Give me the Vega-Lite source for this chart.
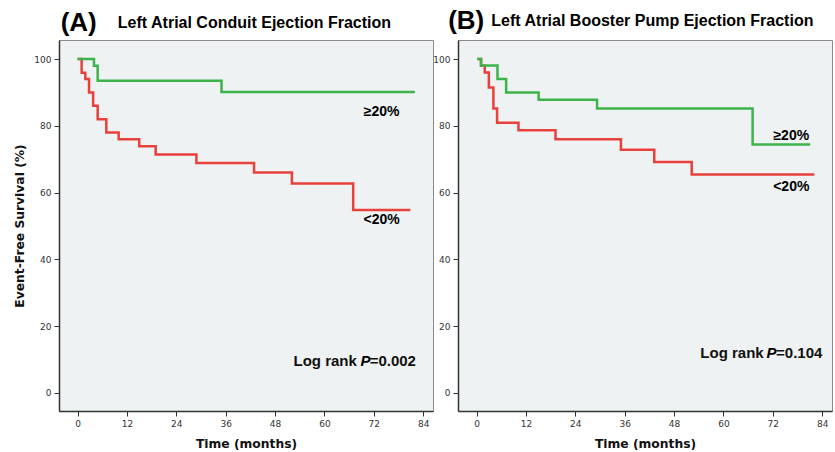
{
  "$schema": "https://vega.github.io/schema/vega-lite/v6.json",
  "padding": {"left": 12, "top": 7, "right": 0, "bottom": 0},
  "background": "white",
  "bounds": "flush",
  "spacing": 25,
  "datasets": {
    "km": [
      {"panel": "A", "group": "≥20%", "t": 0, "s": 100},
      {"panel": "A", "group": "≥20%", "t": 4.0, "s": 98},
      {"panel": "A", "group": "≥20%", "t": 4.9, "s": 93.5},
      {"panel": "A", "group": "≥20%", "t": 35.0, "s": 90.1},
      {"panel": "A", "group": "≥20%", "t": 82.0, "s": 90.1},
      {"panel": "A", "group": "<20%", "t": 0, "s": 100},
      {"panel": "A", "group": "<20%", "t": 1.0, "s": 95.9},
      {"panel": "A", "group": "<20%", "t": 1.9, "s": 94},
      {"panel": "A", "group": "<20%", "t": 2.8, "s": 90},
      {"panel": "A", "group": "<20%", "t": 3.8, "s": 86},
      {"panel": "A", "group": "<20%", "t": 4.9, "s": 82},
      {"panel": "A", "group": "<20%", "t": 7.0, "s": 78},
      {"panel": "A", "group": "<20%", "t": 10.0, "s": 76},
      {"panel": "A", "group": "<20%", "t": 15.0, "s": 73.9},
      {"panel": "A", "group": "<20%", "t": 19.0, "s": 71.4},
      {"panel": "A", "group": "<20%", "t": 28.9, "s": 68.9},
      {"panel": "A", "group": "<20%", "t": 42.9, "s": 66},
      {"panel": "A", "group": "<20%", "t": 52.1, "s": 62.7},
      {"panel": "A", "group": "<20%", "t": 67.0, "s": 54.8},
      {"panel": "A", "group": "<20%", "t": 80.9, "s": 54.8},
      {"panel": "B", "group": "≥20%", "t": 0.2, "s": 100},
      {"panel": "B", "group": "≥20%", "t": 1.1, "s": 98.1},
      {"panel": "B", "group": "≥20%", "t": 5.1, "s": 94},
      {"panel": "B", "group": "≥20%", "t": 7.2, "s": 90},
      {"panel": "B", "group": "≥20%", "t": 15.1, "s": 87.8},
      {"panel": "B", "group": "≥20%", "t": 29.3, "s": 85.2},
      {"panel": "B", "group": "≥20%", "t": 67.1, "s": 74.4},
      {"panel": "B", "group": "≥20%", "t": 81.1, "s": 74.4},
      {"panel": "B", "group": "<20%", "t": 0.2, "s": 100},
      {"panel": "B", "group": "<20%", "t": 1.1, "s": 98},
      {"panel": "B", "group": "<20%", "t": 2.0, "s": 96},
      {"panel": "B", "group": "<20%", "t": 3.0, "s": 91.5},
      {"panel": "B", "group": "<20%", "t": 4.1, "s": 85.2},
      {"panel": "B", "group": "<20%", "t": 5.0, "s": 80.9},
      {"panel": "B", "group": "<20%", "t": 10.2, "s": 78.7},
      {"panel": "B", "group": "<20%", "t": 19.2, "s": 76},
      {"panel": "B", "group": "<20%", "t": 35.1, "s": 72.8},
      {"panel": "B", "group": "<20%", "t": 43.2, "s": 69.2},
      {"panel": "B", "group": "<20%", "t": 52.3, "s": 65.4},
      {"panel": "B", "group": "<20%", "t": 82.1, "s": 65.4}
    ],
    "ann": [
      {"panel": "A", "kind": "head", "label": "(A)", "t": -4.1, "s": 110.8},
      {"panel": "A", "kind": "title", "label": "Left Atrial Conduit Ejection Fraction", "t": 9.8, "s": 110.8},
      {"panel": "A", "kind": "grp", "label": "≥20%", "t": 73.9, "s": 84.2},
      {"panel": "A", "kind": "grp", "label": "<20%", "t": 73.9, "s": 51.8},
      {"panel": "A", "kind": "lr", "label": "Log rank", "t": 67.9, "s": 9.6},
      {"panel": "A", "kind": "P", "label": "P", "t": 68.8, "s": 9.6},
      {"panel": "A", "kind": "pv", "label": "=0.002", "t": 71.0, "s": 9.6},
      {"panel": "B", "kind": "head", "label": "(B)", "t": -6.9, "s": 111.4},
      {"panel": "B", "kind": "title", "label": "Left Atrial Booster Pump Ejection Fraction", "t": 3.6, "s": 111.4},
      {"panel": "B", "kind": "grp", "label": "≥20%", "t": 76.5, "s": 77.0},
      {"panel": "B", "kind": "grp", "label": "<20%", "t": 76.5, "s": 61.8},
      {"panel": "B", "kind": "lr", "label": "Log rank", "t": 69.8, "s": 12.1},
      {"panel": "B", "kind": "P", "label": "P", "t": 70.5, "s": 12.1},
      {"panel": "B", "kind": "pv", "label": "=0.104", "t": 72.8, "s": 12.1}
    ]
  },
  "hconcat": [
    {
      "width": 374,
      "height": 371,
      "encoding": {
        "x": {"field": "t", "type": "quantitative", "scale": {"domain": [-4.5, 86.4], "nice": false, "zero": false}, "axis": {"values": [0, 12, 24, 36, 48, 60, 72, 84], "title": "Time (months)"}},
        "y": {"field": "s", "type": "quantitative", "scale": {"domain": [-5.4, 105.7], "nice": false, "zero": false}, "axis": {"values": [0, 20, 40, 60, 80, 100], "title": "Event-Free Survival (%)"}}
      },
      "layer": [
        {"data": {"name": "km"}, "transform": [{"filter": "datum.panel === 'A' && datum.group === '<20%'"}], "mark": {"type": "line", "interpolate": "step-after", "strokeWidth": 2.5, "color": "#e8413c"}},
        {"data": {"name": "km"}, "transform": [{"filter": "datum.panel === 'A' && datum.group === '≥20%'"}], "mark": {"type": "line", "interpolate": "step-after", "strokeWidth": 2.5, "color": "#3cb44a"}},
        {"data": {"name": "ann"}, "transform": [{"filter": "datum.panel === 'A' && datum.kind === 'head'"}], "mark": {"type": "text", "align": "left", "baseline": "middle", "font": "Liberation Sans", "fontSize": 26, "fontWeight": "bold", "color": "#000"}, "encoding": {"text": {"field": "label"}}},
        {"data": {"name": "ann"}, "transform": [{"filter": "datum.panel === 'A' && datum.kind === 'title'"}], "mark": {"type": "text", "align": "left", "baseline": "middle", "font": "Liberation Sans", "fontSize": 16, "fontWeight": "bold", "color": "#000"}, "encoding": {"text": {"field": "label"}}},
        {"data": {"name": "ann"}, "transform": [{"filter": "datum.panel === 'A' && datum.kind === 'grp'"}], "mark": {"type": "text", "align": "center", "baseline": "middle", "font": "Liberation Sans", "fontSize": 14, "fontWeight": "bold", "color": "#000"}, "encoding": {"text": {"field": "label"}}},
        {"data": {"name": "ann"}, "transform": [{"filter": "datum.panel === 'A' && datum.kind === 'lr'"}], "mark": {"type": "text", "align": "right", "baseline": "middle", "font": "Liberation Sans", "fontSize": 15, "fontWeight": "bold", "color": "#111"}, "encoding": {"text": {"field": "label"}}},
        {"data": {"name": "ann"}, "transform": [{"filter": "datum.panel === 'A' && datum.kind === 'P'"}], "mark": {"type": "text", "align": "left", "baseline": "middle", "font": "Liberation Sans", "fontSize": 15, "fontWeight": "bold", "fontStyle": "italic", "color": "#000"}, "encoding": {"text": {"field": "label"}}},
        {"data": {"name": "ann"}, "transform": [{"filter": "datum.panel === 'A' && datum.kind === 'pv'"}], "mark": {"type": "text", "align": "left", "baseline": "middle", "font": "Liberation Sans", "fontSize": 15, "fontWeight": "bold", "color": "#111"}, "encoding": {"text": {"field": "label"}}}
      ]
    },
    {
      "width": 374,
      "height": 371,
      "encoding": {
        "x": {"field": "t", "type": "quantitative", "scale": {"domain": [-4.5, 86.4], "nice": false, "zero": false}, "axis": {"values": [0, 12, 24, 36, 48, 60, 72, 84], "title": "Time (months)"}},
        "y": {"field": "s", "type": "quantitative", "scale": {"domain": [-5.4, 105.7], "nice": false, "zero": false}, "axis": {"values": [0, 20, 40, 60, 80, 100], "title": null}}
      },
      "layer": [
        {"data": {"name": "km"}, "transform": [{"filter": "datum.panel === 'B' && datum.group === '<20%'"}], "mark": {"type": "line", "interpolate": "step-after", "strokeWidth": 2.5, "color": "#e8413c"}},
        {"data": {"name": "km"}, "transform": [{"filter": "datum.panel === 'B' && datum.group === '≥20%'"}], "mark": {"type": "line", "interpolate": "step-after", "strokeWidth": 2.5, "color": "#3cb44a"}},
        {"data": {"name": "ann"}, "transform": [{"filter": "datum.panel === 'B' && datum.kind === 'head'"}], "mark": {"type": "text", "align": "left", "baseline": "middle", "font": "Liberation Sans", "fontSize": 26, "fontWeight": "bold", "color": "#000"}, "encoding": {"text": {"field": "label"}}},
        {"data": {"name": "ann"}, "transform": [{"filter": "datum.panel === 'B' && datum.kind === 'title'"}], "mark": {"type": "text", "align": "left", "baseline": "middle", "font": "Liberation Sans", "fontSize": 16, "fontWeight": "bold", "color": "#000"}, "encoding": {"text": {"field": "label"}}},
        {"data": {"name": "ann"}, "transform": [{"filter": "datum.panel === 'B' && datum.kind === 'grp'"}], "mark": {"type": "text", "align": "center", "baseline": "middle", "font": "Liberation Sans", "fontSize": 14, "fontWeight": "bold", "color": "#000"}, "encoding": {"text": {"field": "label"}}},
        {"data": {"name": "ann"}, "transform": [{"filter": "datum.panel === 'B' && datum.kind === 'lr'"}], "mark": {"type": "text", "align": "right", "baseline": "middle", "font": "Liberation Sans", "fontSize": 15, "fontWeight": "bold", "color": "#111"}, "encoding": {"text": {"field": "label"}}},
        {"data": {"name": "ann"}, "transform": [{"filter": "datum.panel === 'B' && datum.kind === 'P'"}], "mark": {"type": "text", "align": "left", "baseline": "middle", "font": "Liberation Sans", "fontSize": 15, "fontWeight": "bold", "fontStyle": "italic", "color": "#000"}, "encoding": {"text": {"field": "label"}}},
        {"data": {"name": "ann"}, "transform": [{"filter": "datum.panel === 'B' && datum.kind === 'pv'"}], "mark": {"type": "text", "align": "left", "baseline": "middle", "font": "Liberation Sans", "fontSize": 15, "fontWeight": "bold", "color": "#111"}, "encoding": {"text": {"field": "label"}}}
      ]
    }
  ],
  "config": {
    "view": {"fill": "#eef2f3", "stroke": "#8a8a8a", "strokeWidth": 1},
    "axis": {
      "grid": false,
      "domainColor": "#333333",
      "domainWidth": 1.5,
      "tickColor": "#333333",
      "tickSize": 5,
      "tickWidth": 1,
      "labelColor": "#333333",
      "labelFont": "DejaVu Sans",
      "labelFontSize": 9,
      "labelPadding": 3,
      "titleFont": "DejaVu Sans",
      "titleFontSize": 12.3,
      "titleFontWeight": "bold",
      "titleColor": "#111111"
    },
    "axisX": {"titlePadding": 9},
    "axisY": {"titlePadding": 7.5}
  }
}
